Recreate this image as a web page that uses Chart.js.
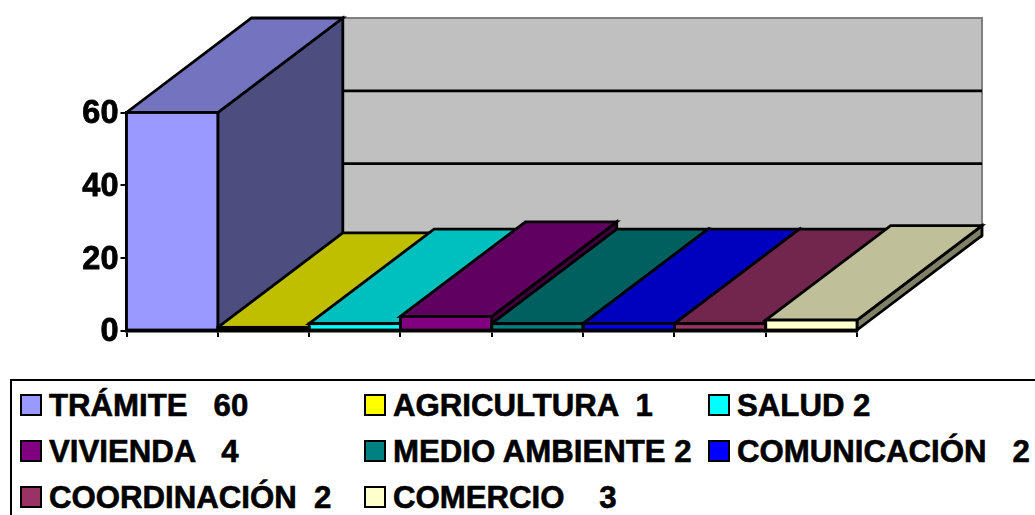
<!DOCTYPE html>
<html>
<head>
<meta charset="utf-8">
<script src="https://cdn.jsdelivr.net/npm/chart.js@4"></script>
<style>
  html, body { margin: 0; padding: 0; background: #fff; overflow: hidden; }
  #wrap { position: relative; width: 1035px; height: 515px; overflow: hidden; }
  #chart { position: absolute; left: 0; top: 0; }
  #legend {
    position: absolute; left: 10px; top: 378.5px; width: 1040px; height: 150px;
    box-sizing: border-box; border: 2.5px solid #000; background: #fff;
  }
  .item {
    position: absolute; height: 46px; display: flex; align-items: center; white-space: pre;
    font: bold 31.2px "Liberation Sans", Arial, sans-serif; color: #000;
    -webkit-text-stroke: 0.6px #000;
  }
  .swatch {
    width: 22px; height: 22px; box-sizing: border-box; border: 2.5px solid #000;
    margin-right: 7px; flex: none;
  }
  .label { position: relative; top: 1px; }
</style>
</head>
<body>
<div id="wrap">
  <canvas id="chart" width="1035" height="515"></canvas>
  <div id="legend"></div>
</div>
<script>
// ==============================
// DATA
// ==============================
const categories = ["TRÁMITE", "AGRICULTURA", "SALUD", "VIVIENDA", "MEDIO AMBIENTE", "COMUNICACIÓN", "COORDINACIÓN", "COMERCIO"];
const values = [60, 1, 2, 4, 2, 2, 2, 3];
const legendLabels = ["TRÁMITE   60", "AGRICULTURA  1", "SALUD 2", "VIVIENDA   4", "MEDIO AMBIENTE 2", "COMUNICACIÓN   2", "COORDINACIÓN  2", "COMERCIO    3"];
const yTicks = [0, 20, 40, 60];

// front colour of each bar, as [r, g, b]
const barColors = [
  [153, 153, 255], [255, 255, 0], [0, 255, 255], [128, 0, 128],
  [0, 128, 128], [0, 0, 255], [153, 51, 102], [255, 255, 204]
];

// ==============================
// 3D LOOK
// ==============================
const DEPTH_X = 125;
const DEPTH_Y = 94.5;
const TOP_SHADE = 0.75;
const SIDE_SHADE = 0.5;
const LINE = 2.8;

function rgb(c, f) {
  return `rgb(${Math.round(c[0] * f)},${Math.round(c[1] * f)},${Math.round(c[2] * f)})`;
}

function poly(ctx, pts, fill) {
  ctx.beginPath();
  pts.forEach((p, i) => (i ? ctx.lineTo(p[0], p[1]) : ctx.moveTo(p[0], p[1])));
  ctx.closePath();
  if (fill) {
    ctx.fillStyle = fill;
    ctx.fill();
  }
  ctx.stroke();
}

const box3d = {
  id: "box3d",
  beforeDatasetsDraw(chart) {
    const { ctx, chartArea: a, scales } = chart;
    const left = a.left + DEPTH_X, right = a.right + DEPTH_X;
    const top = a.top - DEPTH_Y, bottom = a.bottom - DEPTH_Y;

    ctx.save();
    ctx.lineJoin = "miter";

    // back wall
    ctx.fillStyle = "#c0c0c0";
    ctx.fillRect(left, top, right - left, bottom - top);
    ctx.strokeStyle = "#808080";
    ctx.lineWidth = 2;
    ctx.strokeRect(left, top, right - left, bottom - top);

    // gridlines on the wall
    ctx.strokeStyle = "#000";
    ctx.lineWidth = LINE;
    scales.y.ticks.forEach(t => {
      if (t.value === 60) return;
      const y = scales.y.getPixelForValue(t.value) - DEPTH_Y;
      ctx.beginPath();
      ctx.moveTo(left, y);
      ctx.lineTo(right, y);
      ctx.stroke();
    });

    // top and side of each bar, left to right so the next one covers
    chart.getDatasetMeta(0).data.forEach((bar, i) => {
      const x0 = bar.x - bar.width / 2, x1 = bar.x + bar.width / 2;
      const y0 = bar.y, y1 = bar.base;
      poly(ctx, [[x1, y0], [x1, y1], [x1 + DEPTH_X, y1 - DEPTH_Y], [x1 + DEPTH_X, y0 - DEPTH_Y]], rgb(barColors[i], SIDE_SHADE));
      poly(ctx, [[x0, y0], [x1, y0], [x1 + DEPTH_X, y0 - DEPTH_Y], [x0 + DEPTH_X, y0 - DEPTH_Y]], rgb(barColors[i], TOP_SHADE));
    });
    ctx.restore();
  },
  afterDatasetsDraw(chart) {
    const ctx = chart.ctx;
    ctx.save();
    ctx.strokeStyle = "#000";
    ctx.lineWidth = LINE;
    chart.getDatasetMeta(0).data.forEach(bar => {
      ctx.strokeRect(bar.x - bar.width / 2, bar.y, bar.width, bar.base - bar.y);
    });
    ctx.restore();
  }
};

// ==============================
// CHART
// ==============================
new Chart(document.getElementById("chart").getContext("2d"), {
  type: "bar",
  data: {
    labels: categories,
    datasets: [{
      data: values,
      backgroundColor: barColors.map(c => rgb(c, 1)),
      borderWidth: 0,
      categoryPercentage: 1,
      barPercentage: 1
    }]
  },
  plugins: [box3d],
  options: {
    responsive: false,
    animation: false,
    layout: { padding: { top: 112.5, right: 178, left: 0, bottom: 0 } },
    plugins: { legend: { display: false }, tooltip: { enabled: false } },
    scales: {
      x: {
        afterFit(scale) { scale.height = 184; },
        ticks: { display: false },
        grid: { drawOnChartArea: false, color: "#000", lineWidth: 2, tickLength: 6, offset: true },
        border: { color: "#000", width: 2.5 }
      },
      y: {
        min: 0,
        max: 60,
        afterFit(scale) { scale.width = 126.5; },
        afterBuildTicks(scale) { scale.ticks = yTicks.map(v => ({ value: v })); },
        ticks: {
          color: "#000",
          padding: 2,
          labelOffset: 1.5,
          textStrokeColor: "#000",
          textStrokeWidth: 0.8,
          font: { family: '"Liberation Sans", Arial, sans-serif', size: 32.5, weight: "bold" }
        },
        grid: { drawOnChartArea: false, color: "#000", lineWidth: 2, tickLength: 6 },
        border: { color: "#000", width: 2.5 }
      }
    }
  }
});

// ==============================
// LEGEND
// ==============================
const legend = document.getElementById("legend");
legendLabels.forEach((label, i) => {
  const item = document.createElement("div");
  item.className = "item";
  item.style.left = 8 + (i % 3) * 344 + "px";
  item.style.top = 1 + Math.floor(i / 3) * 46 + "px";
  const swatch = document.createElement("span");
  swatch.className = "swatch";
  swatch.style.background = rgb(barColors[i], 1);
  const text = document.createElement("span");
  text.className = "label";
  text.textContent = label;
  item.appendChild(swatch);
  item.appendChild(text);
  legend.appendChild(item);
});
</script>
</body>
</html>
